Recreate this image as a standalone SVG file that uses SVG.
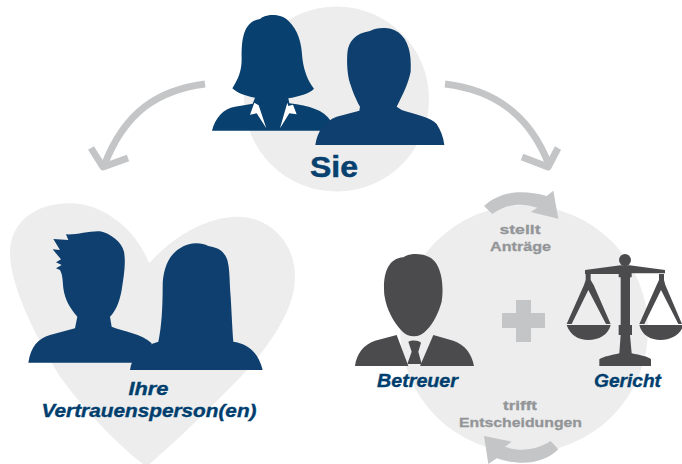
<svg xmlns="http://www.w3.org/2000/svg" width="682" height="464" viewBox="0 0 682 464">
<style>
.bg{fill:#ecedec}
.navy{fill:#0e3f6e}
.navy2{fill:#08416f}
.dark{fill:#4b4b4d}
.arrow{fill:none;stroke:#c4c5c6;stroke-width:7}
.cyc{fill:#c4c5c6}
text{font-family:"Liberation Sans",Arial,sans-serif;font-weight:700;text-anchor:middle}
.lab{fill:#003e6e;stroke:#003e6e;stroke-width:.35;font-style:italic;font-size:17.500px}
.note{fill:#939598;stroke:#939598;stroke-width:.3;font-size:13.500px}
</style>
<g id="connectors">
<path class="arrow" d="M205 84C160 90 125 110 104 166"/>
<path class="arrow" stroke-linejoin="round" d="M91 148L103 167L128 158"/>
<path class="arrow" d="M445 84C495 90 530 115 549 165"/>
<path class="arrow" stroke-linejoin="round" d="M558 148L548 167L522 157"/>
</g>
<g id="sie">
<circle class="bg" cx="336.500" cy="99" r="92.500"/>
<g transform="translate(200 0) scale(.33333)">
<path class="navy2" d="M180 57C195 42 240 38 265 62C295 90 305 130 307 175C312 215 325 245 342 266C330 280 295 290 265 295L268 310C330 318 370 330 392 362L380 392H36C45 355 70 325 105 320L158 311L165 293C135 288 110 278 97 265C115 235 125 215 125 175C125 130 125 65 180 57Z"/>
<path fill="#fff" d="M163 308L150 344L170 340L199 385L176 316ZM262 308L240 385L268 340L290 343L279 314L265 318Z"/>
<path class="navy" d="M510 93C530 80 575 80 595 97C625 120 635 160 632 215C625 250 610 280 590 320L605 330C650 345 690 350 710 372C722 390 730 410 733 435H346C352 395 372 365 410 350L478 332L480 320C465 295 455 265 450 250C442 225 440 190 442 160C445 125 465 100 510 93Z"/>
</g>
<text x="334" y="177" font-size="29" fill="#08416f" stroke="#08416f" stroke-width=".5" textLength="48" lengthAdjust="spacingAndGlyphs">Sie</text>
</g>
<g id="vertrauen">
<g transform="translate(0 200) scale(.33333)">
<path class="bg" d="M447 190C410 90 310 10 210 10C100 10 30 70 30 160C30 250 100 400 180 530C260 640 370 750 440 800C510 740 640 620 760 490C840 390 885 310 885 230C885 120 800 50 715 50C610 50 510 120 447 190Z"/>
<path class="navy" d="M198 103C230 105 270 92 300 94C330 100 365 125 372 155C378 190 372 225 365 270C358 310 345 335 330 350L335 380C370 395 425 400 455 430L440 488H85C92 440 115 415 150 405L225 385L232 350C210 325 195 300 190 265C188 240 188 225 180 210L168 205L185 195L168 187L183 178L158 148L180 150L160 117L205 120Z"/>
<path class="navy" d="M625 138C645 143 670 145 682 180C690 210 688 240 692 290C695 340 697 390 700 425C740 430 775 455 788 510H390C395 470 425 440 475 425C485 380 488 320 488 260C488 210 505 165 540 145C565 128 600 125 625 138Z"/>
</g>
<text class="lab" x="148.500" y="395" textLength="40" lengthAdjust="spacingAndGlyphs">Ihre</text>
<text class="lab" x="149" y="417" textLength="215" lengthAdjust="spacingAndGlyphs">Vertrauensperson(en)</text>
</g>
<g id="betreuung">
<circle class="bg" cx="524" cy="329" r="124"/>
</g>
<g id="betreuer">
<g transform="translate(340 180) scale(.33333)">
<path class="dark" d="M190 232C215 215 265 220 285 245C305 270 312 320 305 365C295 400 280 430 260 450C240 475 205 475 185 452C160 425 140 390 133 345C128 290 140 235 190 232Z"/>
<path class="dark" d="M170 465L205 558H45C50 520 70 495 105 482ZM280 465L240 558H402C395 520 375 495 340 482Z"/>
<path class="dark" d="M205 485C215 480 235 480 243 488L235 515L245 552H202L215 515Z"/>
</g>
<text class="lab" x="417.500" y="387" textLength="81" lengthAdjust="spacingAndGlyphs">Betreuer</text>
</g>
<g id="gericht">
<g transform="translate(340 180) scale(.33333)">
<circle class="dark" cx="855" cy="240" r="18"/>
<path class="dark" d="M842 256H868L975 270V280H875V292H870L870 435H876V465H870L875 520C900 525 925 530 933 538V558H778V538C790 530 815 525 838 520L842 465H836V435H842V292H836V282H735V270Z"/>
<path class="dark" d="M737 282H752V300L761 315L812 432H680L732 315L737 300ZM745 330L695 432H798Z" fill-rule="evenodd"/>
<path class="dark" d="M680 435H812C805 465 775 480 745 480C715 480 690 465 680 435Z"/>
<path class="dark" d="M957 282H972V300L976 315L1026 432H898L950 315L957 300ZM963 330L913 432H1015Z" fill-rule="evenodd"/>
<path class="dark" d="M898 435H1030C1022 465 992 480 962 480C932 480 905 465 898 435Z"/>
</g>
<text class="lab" x="627.500" y="387" textLength="67" lengthAdjust="spacingAndGlyphs">Gericht</text>
</g>
<g id="cycle">
<g transform="translate(340 180) scale(.33333)">
<path class="cyc" d="M432 78C475 38 540 25 620 48L640 32L655 116L572 96L592 83C540 65 495 75 457 102Z"/>
<path class="cyc" d="M655 808C612 850 545 860 470 835L445 852L432 768L515 785L495 800C545 818 590 808 632 783Z"/>
</g>
<path class="cyc" d="M502 313H516V300H531V313H545V328H531V342H516V328H502Z"/>
<text class="note" x="520" y="234" textLength="41" lengthAdjust="spacingAndGlyphs">stellt</text>
<text class="note" x="520.500" y="251" textLength="61" lengthAdjust="spacingAndGlyphs">Anträge</text>
<text class="note" x="520" y="410" textLength="34" lengthAdjust="spacingAndGlyphs">trifft</text>
<text class="note" x="520.500" y="427" textLength="123" lengthAdjust="spacingAndGlyphs">Entscheidungen</text>
</g>
</svg>
